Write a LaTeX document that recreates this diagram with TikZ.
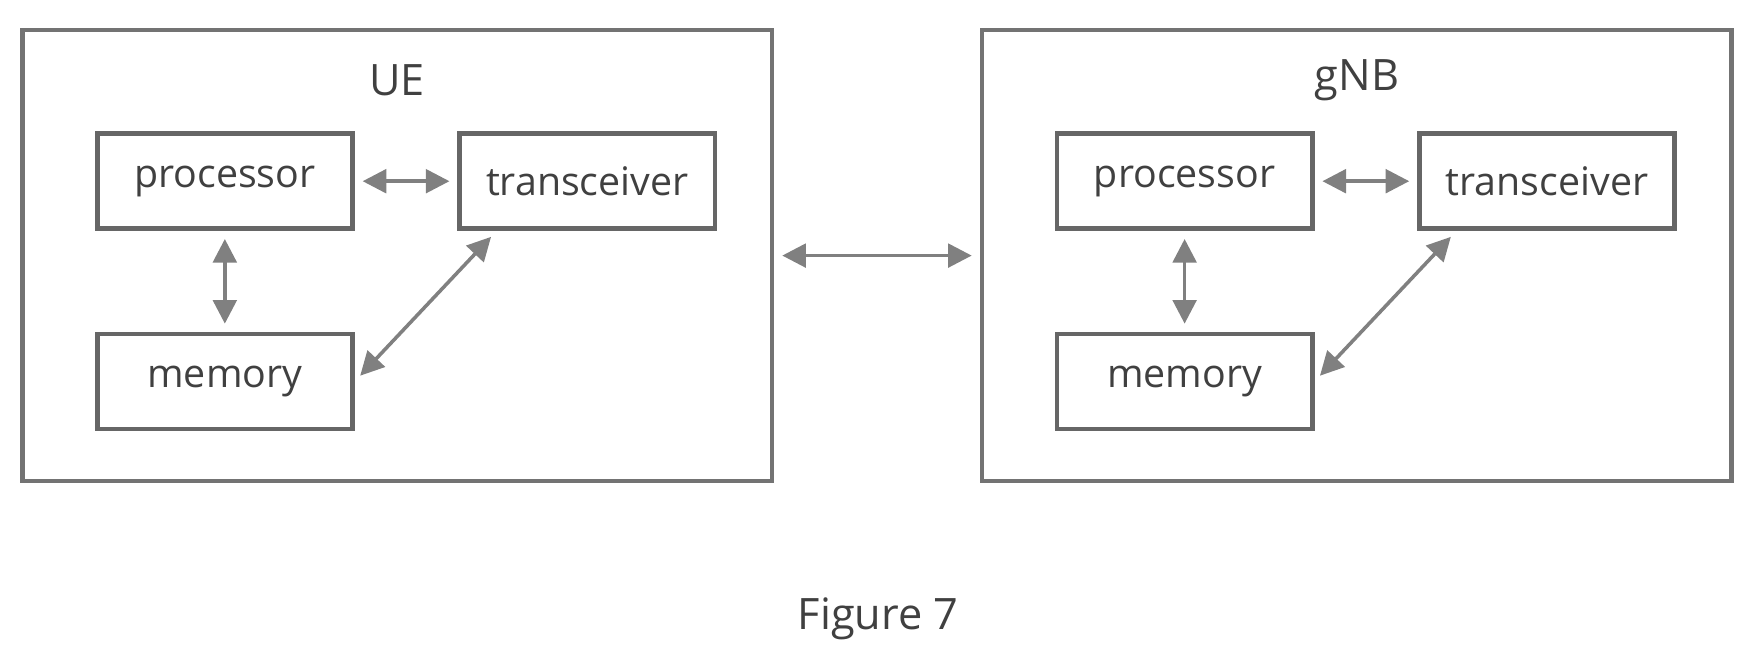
\documentclass[tikz,border=0pt]{standalone}
\usepackage{fontspec}
\setmainfont{Open Sans}
\usetikzlibrary{arrows.meta}
\begin{document}
\begin{tikzpicture}[
    x=0.01cm, y=-0.01cm,
    font=\fontsize{10}{12}\selectfont\color{black!75},
    outer/.style={draw=black!55, line width=1.2pt, inner sep=0pt},
    part/.style={draw=black!60, line width=1.2pt, minimum width=2.28cm, minimum height=0.85cm, inner sep=0pt},
    link/.style={{Triangle[length=6pt,width=6pt]}-{Triangle[length=6pt,width=6pt]}, draw=black!50, fill=black!60, line width=0.9pt, shorten >=2pt, shorten <=2pt}
]
\useasboundingbox (0,0) rectangle (1568,592);

% UE side
\node[outer, minimum width=6.7cm, minimum height=4.03cm] (ue) at (355,228.5) {};
\node (uelabel) at (355,72) {\fontsize{11}{13}\selectfont UE};
\node[part] (uproc) at (201,162) {processor};
\node[part] (utrx) at (525,162) {transceiver};
\node[part] (umem) at (201,341) {memory};

% gNB side
\node[outer, minimum width=6.7cm, minimum height=4.03cm] (gnb) at (1213,228.5) {};
\node (gnblabel) at (1213,72) {\fontsize{11}{13}\selectfont gNB};
\node[part] (gproc) at (1059,162) {processor};
\node[part] (gtrx) at (1383,162) {transceiver};
\node[part] (gmem) at (1059,341) {memory};

% Arrows
\draw[link] (uproc) -- (utrx);
\draw[link] (uproc) -- (umem);
\draw[link] (utrx.south west) ++(35,0) coordinate (ua) (ua) -- (umem.east);
\draw[link] (gproc) -- (gtrx);
\draw[link] (gproc) -- (gmem);
\draw[link] (gtrx.south west) ++(35,0) coordinate (ga) (ga) -- (gmem.east);
\draw[link] (ue.east) ++(0,0) -- (gnb.west);

% Caption
\node (cap) at (785,553) {\fontsize{11}{13}\selectfont Figure 7};
\end{tikzpicture}
\end{document}
